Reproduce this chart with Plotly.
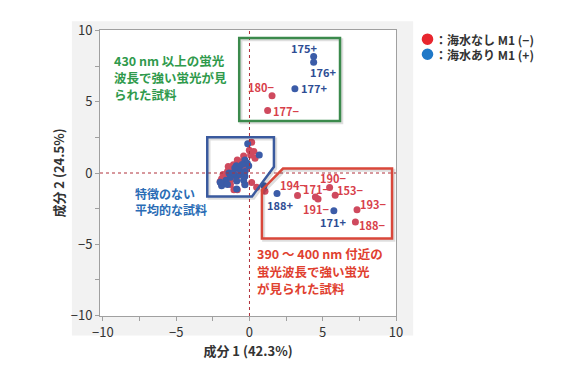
import plotly.graph_objects as go

# ---------------- data ----------------
red_x = [0.15, -0.01, 0.08, 0.38, -0.83, -1.10, -1.45, -0.50, -0.65, -1.20, -1.50, -1.80, -2.00, -1.90,
         -1.60, -1.30, -1.00, -0.80, -0.60, -1.70, -1.40, -1.10, -0.31, -0.83, -1.06, 0.49, 0.15, 1.06,
         -0.20, -1.90, -1.30, 0.30, -0.40,
         1.54, 1.24, 3.28, 4.50, 4.68, 5.47, 5.85, 7.34, 7.23]
red_y = [2.16, 1.60, 1.26, 1.03, 0.92, 0.58, 0.46, 0.80, 0.50, 0.20, 0.10, -0.10, -0.60, -0.40,
         -0.30, -0.10, 0.10, -0.20, 0.20, -0.70, -0.50, -0.40, -0.79, -1.17, -1.17, -1.00, -0.67, -1.28,
         0.30, -0.80, -0.80, 1.50, 1.20,
         5.42, 4.38, -1.58, -1.69, -1.83, -1.02, -1.56, -2.57, -3.43]
blue_x = [-0.12, 0.67, -0.31, -0.15, -0.90, -0.70, -1.00, -1.20, -0.90, -0.60, -1.40, -1.60, -1.30,
          -0.31, -0.87, -0.40, -1.90, -2.00, -1.50, -0.87, -0.31, 0.99, -0.50, -1.10, -0.30, -0.05,
          4.38, 4.38, 3.10, 1.88, 5.76]
blue_y = [2.05, 1.26, 0.92, 0.69, 0.50, 0.30, 0.35, -0.10, -0.20, -0.10, 0.00, -0.50, -0.30,
          -0.22, -0.56, -0.50, -0.90, -0.65, -0.80, -1.12, -0.83, -0.90, 0.60, 0.00, 0.10, 0.50,
          8.17, 7.77, 5.91, -1.44, -2.64]

# labelled samples
labels = ["175+", "176+", "177+", "188+", "171+",
          "180−", "177−", "194−", "171−", "191−", "190−", "153−", "193−", "188−"]
label_x = [4.38, 4.38, 3.10, 1.88, 5.76, 1.54, 1.24, 3.28, 4.50, 4.68, 5.47, 5.85, 7.34, 7.23]
label_y = [8.17, 7.77, 5.91, -1.44, -2.64, 5.42, 4.38, -1.58, -1.69, -1.83, -1.02, -1.56, -2.57, -3.43]
label_series = ["b", "b", "b", "b", "b", "r", "r", "r", "r", "r", "r", "r", "r", "r"]
label_dx = [-10, 9, 19, 3, -1, -11, 18, -5, 1, -2, 3, 15, 16, 17]
label_dy = [-9, 10, -1, 11, 11, -9, 0, -11, -8, 10, -10, -5, -6, 3]

legend_names = ["：海水なし M1 (−)", "：海水あり M1 (+)"]

green_lines = ["430 nm 以上の蛍光", "波長で強い蛍光が見", "られた試料"]
blue_lines = ["特徴のない", "平均的な試料"]
red_lines = ["390 ～ 400 nm 付近の", "蛍光波長で強い蛍光", "が見られた試料"]

RED_PT = "#cf4a5e"
BLUE_PT = "#3b5ca8"
RED_LBL = "#d8404a"
BLUE_LBL = "#2e4d94"
FONT = "Noto Sans CJK JP"

# plot-area pixel frame (page coords) used to place paper-referenced decorations
PL, PR, PT, PB = 100, 396, 21, 316


def px2paper(px, py):
    return (px - PL) / (PR - PL), (PB - py) / (PB - PT)


fig = go.Figure()
fig.add_trace(go.Scatter(x=red_x, y=red_y, mode="markers", name=legend_names[0],
                         marker=dict(color=RED_PT, size=7), showlegend=False))
fig.add_trace(go.Scatter(x=blue_x, y=blue_y, mode="markers", name=legend_names[1],
                         marker=dict(color=BLUE_PT, size=7), showlegend=False))

shapes = []
# grey panel behind the chart and white plot area
shapes.append(dict(type="rect", xref="paper", yref="paper", x0=-0.095, x1=1.058, y0=-0.068, y1=1.031,
                   fillcolor="#f2f2f2", line=dict(width=0), layer="below"))
shapes.append(dict(type="rect", xref="paper", yref="paper", x0=0, x1=1, y0=0, y1=1,
                   fillcolor="white", line=dict(width=0), layer="below"))
# dotted origin lines
shapes.append(dict(type="line", xref="x", yref="paper", x0=0, x1=0, y0=0, y1=1,
                   line=dict(color="#b0303a", width=1, dash="dot")))
shapes.append(dict(type="line", xref="paper", yref="y", x0=0, x1=1, y0=0, y1=0,
                   line=dict(color="#b0303a", width=1, dash="dot")))


def poly(pts):
    return "M " + " L ".join(f"{x},{y}" for x, y in pts) + " Z"


green_box = [(-0.70, 9.47), (6.18, 9.47), (6.18, 3.64), (-0.70, 3.64)]
blue_box = [(-2.88, 2.50), (1.67, 2.50), (1.67, 0.44), (0.17, -1.65), (-2.88, -1.65)]
red_box = [(2.29, 0.31), (9.73, 0.31), (9.73, -4.59), (0.85, -4.59), (0.85, -1.19)]
for pts, col in [(green_box, "#3b8a4c"), (blue_box, "#3a5a9e"), (red_box, "#d9473a")]:
    sh = [(x + 0.12, y - 0.12) for x, y in pts]
    shapes.append(dict(type="path", xref="x", yref="y", path=poly(sh),
                       line=dict(color="rgba(0,0,0,0.13)", width=3)))
    shapes.append(dict(type="path", xref="x", yref="y", path=poly(pts),
                       line=dict(color=col, width=2.5)))

LEG_Y = [30.5, 46]
# legend circles
for yy, col in zip(LEG_Y, ["#e8262e", "#1f78c8"]):
    ax_, ay_ = px2paper(427.5, yy)
    shapes.append(dict(type="circle", xref="paper", yref="paper", xsizemode="pixel", ysizemode="pixel",
                       xanchor=ax_, yanchor=ay_, x0=-5.8, x1=5.8, y0=-5.8, y1=5.8,
                       fillcolor=col, line=dict(width=0)))

annotations = []
for name, yy in zip(legend_names, LEG_Y):
    ax_, ay_ = px2paper(434, yy)
    annotations.append(dict(xref="paper", yref="paper", x=ax_, y=ay_, borderpad=0,
                            xanchor="left", yanchor="middle", showarrow=False, text=name,
                            font=dict(family=FONT, size=12, color="#333333", weight="bold")))

for t, x, y, s, dx, dy in zip(labels, label_x, label_y, label_series, label_dx, label_dy):
    annotations.append(dict(x=x, y=y, xref="x", yref="y", text=t, showarrow=False,
                            xshift=dx, yshift=-dy, borderpad=0,
                            font=dict(family=FONT, size=11, weight="bold",
                                      color=BLUE_LBL if s == "b" else RED_LBL)))


def text_block(lines, left, tops, color, size):
    for line, yy in zip(lines, tops):
        ax_, ay_ = px2paper(left, yy)
        annotations.append(dict(xref="paper", yref="paper", x=ax_, y=ay_, xanchor="left",
                                yanchor="middle", showarrow=False, text=line, borderpad=0,
                                font=dict(family=FONT, size=size, weight="bold", color=color)))


text_block(green_lines, 113, [52, 70, 88], "#2f9a4c", 12.5)
text_block(blue_lines, 134, [189.5, 206.5], "#2a6cb5", 12)
text_block(red_lines, 256, [252, 270, 288], "#e0402f", 12.5)

axis_common = dict(showgrid=False, zeroline=False, showline=True, mirror=True, linecolor="#a0a0a0",
                   linewidth=1, ticks="outside", ticklen=4, tickcolor="#a0a0a0",
                   tickvals=[-10, -5, 0, 5, 10], tickfont=dict(family=FONT, size=13, color="#333333"),
                   minor=dict(dtick=2.5, ticks="outside", ticklen=4, tickcolor="#a0a0a0"))

fig.update_layout(
    width=586, height=368,
    margin=dict(l=92, r=198, t=13, b=60),
    paper_bgcolor="white", plot_bgcolor="rgba(0,0,0,0)",
    showlegend=False,
    shapes=shapes, annotations=annotations,
    xaxis=dict(range=[-10.2, 10], title=dict(text="成分 1 (42.3%)", standoff=6,
               font=dict(family=FONT, size=13, weight="bold", color="#333333")), **axis_common),
    yaxis=dict(range=[-10.03, 10.03], title=dict(text="成分 2 (24.5%)", standoff=3,
               font=dict(family=FONT, size=13, weight="bold", color="#333333")), **axis_common),
)

fig.write_html("out.html")
